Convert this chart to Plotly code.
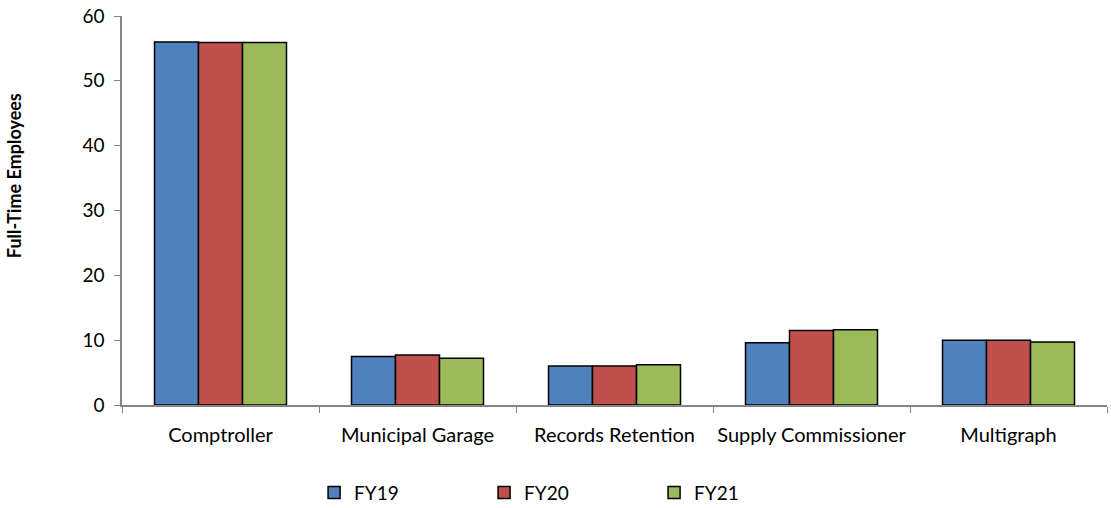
import plotly.graph_objects as go

# Full-time employee counts by division and fiscal year
divisions = ["Comptroller", "Municipal Garage", "Records Retention",
             "Supply Commissioner", "Multigraph"]
fy19 = [56.0, 7.5, 6.0, 9.6, 10.0]
fy20 = [55.9, 7.7, 6.0, 11.5, 10.0]
fy21 = [55.9, 7.2, 6.2, 11.6, 9.7]

series = [
    ("FY19", fy19, "#4F81BD"),
    ("FY20", fy20, "#C0504D"),
    ("FY21", fy21, "#9BBB59"),
]

font_family = "Lato, Open Sans, sans-serif"

fig = go.Figure()
for name, values, color in series:
    fig.add_trace(go.Bar(
        name=name,
        x=divisions,
        y=values,
        marker=dict(color=color, line=dict(color="black", width=1.5)),
    ))

fig.update_layout(
    width=1111,
    height=508,
    barmode="group",
    bargap=0.33,
    bargroupgap=0,
    plot_bgcolor="white",
    paper_bgcolor="white",
    margin=dict(l=122, r=4, t=16, b=103, autoexpand=False),
    font=dict(family=font_family, size=19, color="black"),
    showlegend=True,
    legend=dict(
        orientation="h",
        x=0.195,
        xanchor="left",
        yref="container",
        y=0.03,
        yanchor="middle",
        entrywidth=125,
        font=dict(size=19),
    ),
)

# Vertical axis caption, placed slightly above the axis midpoint
fig.add_annotation(
    text="<b>Full-Time Employees</b>",
    textangle=-90,
    xref="paper", yref="paper",
    x=-0.109, y=0.59,
    xanchor="center", yanchor="middle",
    showarrow=False,
    font=dict(size=18),
)

fig.update_xaxes(
    type="category",
    automargin=False,
    showline=True,
    linecolor="#868686",
    linewidth=1.5,
    ticks="outside",
    tickson="boundaries",
    ticklen=6,
    tickcolor="#868686",
    showgrid=False,
    tickangle=0,
    tickfont=dict(size=20),
    ticklabelstandoff=11,
)

fig.update_yaxes(
    range=[0, 60],
    dtick=10,
    automargin=False,
    showline=True,
    linecolor="#868686",
    linewidth=1.5,
    ticks="outside",
    ticklen=6,
    tickcolor="#868686",
    showgrid=False,
    zeroline=False,
    tickfont=dict(size=19),
    ticklabelstandoff=6,
)

fig.write_html("out.html")
